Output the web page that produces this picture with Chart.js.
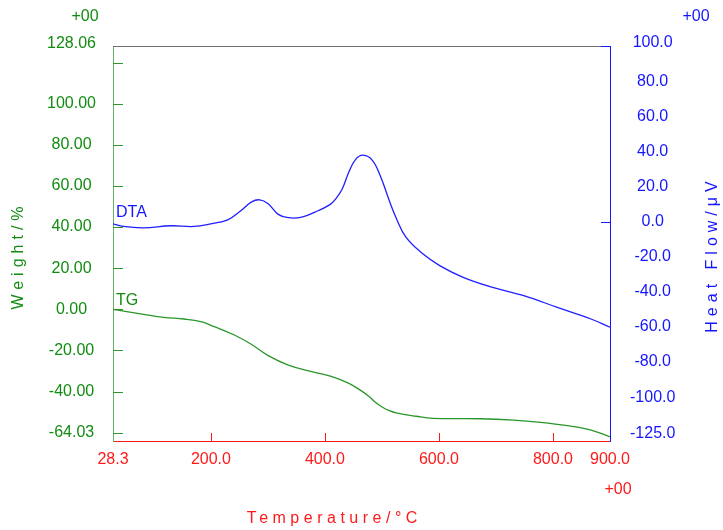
<!DOCTYPE html>
<html lang="en">
<head>
<meta charset="UTF-8">
<title>TG / DTA</title>
<style>
  body { margin: 0; background: #fff; }
  #wrap { width: 723px; height: 530px; }
</style>
</head>
<body>
<div id="wrap"><canvas id="grafico"></canvas></div>

<script src="https://cdn.jsdelivr.net/npm/chart.js"></script>
<script>
// TG curve (weight %, left axis)
const tgTemp   = [28.3, 81.9, 117.3, 152.7, 182.3, 205.8, 241.2, 270.8, 300.4, 335.8, 377, 412.4, 442, 462, 477.4, 489, 501, 513, 525, 559.8, 589.4, 672, 731, 778.3, 825.3, 866.7, 900];
const tgWeight = [0.0, -2.4, -3.9, -4.7, -6.0, -8.4, -12.5, -17.0, -22.5, -27.1, -30.3, -32.7, -36.0, -39.3, -42.4, -45.3, -47.6, -49.3, -50.4, -52.0, -53.0, -53.2, -53.9, -55.0, -56.6, -58.7, -62.0];

// DTA curve (heat flow uV, right axis)
const dtaTemp = [28.3, 46.5, 81.9, 129.2, 170.4, 200, 229.6, 253.1, 270.8, 285.5, 300.4, 318.1, 335.8, 359.3, 388.9, 409.4, 418.2, 430.1, 442, 453.6, 466.7, 483.2, 497.9, 512.8, 524.4, 542.1, 571.7, 601.3, 642.5, 689.7, 748.7, 807.6, 866.7, 900];
const dtaHeat = [-1.3, -2.8, -3.6, -2.4, -2.8, -1.3, 1.0, 6.3, 11.1, 12.4, 10.2, 4.1, 2.2, 2.5, 6.3, 9.8, 12.6, 18.4, 28.2, 35.3, 37.8, 34.9, 25.4, 12.0, 2.5, -8.9, -18.4, -25.1, -31.8, -37.1, -42.2, -48.9, -55.5, -60.2];

// axis ticks
const tempTicks   = [28.3, 200, 400, 600, 800, 900];
const tempMarks   = [200, 400, 600, 800];
const weightTicks = [-64.03, -40, -20, 0, 20, 40, 60, 80, 100, 128.06];
const weightMarks = [-60, -40, -20, 0, 20, 40, 60, 80, 100, 120];
const heatTicks   = [-125, -100, -80, -60, -40, -20, 0, 20, 40, 60, 80, 100];
const heatMarks   = [0, 100];

const GREEN = '#118c11';
const BLUE  = '#1515ff';
const RED   = '#ff1a1a';
const FONT  = "'Liberation Sans', Arial, sans-serif";

const pts = (xs, ys) => xs.map((x, i) => ({ x: x, y: ys[i] }));

function setTicks(values) {
  return scale => { scale.ticks = values.map(v => ({ value: v })); };
}

function spaced(ctx, text, x, y, rot, color, spacing) {
  ctx.save();
  ctx.translate(x, y);
  ctx.rotate(rot);
  ctx.fillStyle = color;
  ctx.font = '16px ' + FONT;
  ctx.letterSpacing = spacing + 'px';
  ctx.textAlign = 'center';
  ctx.textBaseline = 'middle';
  ctx.fillText(text, spacing / 2, 0);
  ctx.restore();
}

const extras = {
  id: 'extras',
  beforeDraw(chart) {
    // end labels sit a little inside the frame, like the original
    const ca = chart.chartArea;
    [['yW', -8, -2], ['yH', -7, -3]].forEach(([id, dBottom, dTop]) => {
      const items = chart.scales[id].getLabelItems(ca);
      if (!items.length || items._nudged) return;
      items[0].options.translation[1] += dBottom;
      items[items.length - 1].options.translation[1] += dTop;
      items._nudged = true;
    });
  },
  afterDraw(chart) {
    const ctx = chart.ctx;
    const ca = chart.chartArea;
    const { x, yW, yH } = chart.scales;

    ctx.save();
    ctx.lineWidth = 1;
    // top frame line
    ctx.strokeStyle = '#707070';
    ctx.beginPath();
    ctx.moveTo(ca.left, ca.top + 0.5);
    ctx.lineTo(ca.right, ca.top + 0.5);
    ctx.stroke();

    // inward tick marks
    ctx.strokeStyle = '#2e962e';
    weightMarks.forEach(v => {
      const py = Math.round(yW.getPixelForValue(v)) + 0.5;
      ctx.beginPath(); ctx.moveTo(ca.left, py); ctx.lineTo(ca.left + 10, py); ctx.stroke();
    });
    ctx.strokeStyle = BLUE;
    heatMarks.forEach(v => {
      const py = Math.round(yH.getPixelForValue(v)) + 0.5;
      ctx.beginPath(); ctx.moveTo(ca.right - 9, py); ctx.lineTo(ca.right, py); ctx.stroke();
    });
    ctx.strokeStyle = RED;
    tempMarks.forEach(v => {
      const px = Math.round(x.getPixelForValue(v)) + 0.5;
      ctx.beginPath(); ctx.moveTo(px, ca.bottom); ctx.lineTo(px, ca.bottom - 8); ctx.stroke();
    });

    // curve names and exponent labels
    ctx.font = '16px ' + FONT;
    ctx.textBaseline = 'middle';
    ctx.textAlign = 'left';
    ctx.fillStyle = BLUE;
    ctx.fillText('DTA', ca.left + 3, 213);
    ctx.fillStyle = GREEN;
    ctx.fillText('TG', ca.left + 3, 301);
    ctx.textAlign = 'center';
    ctx.fillText('+00', 85, 17);
    ctx.fillStyle = BLUE;
    ctx.fillText('+00', 696, 17);
    ctx.fillStyle = RED;
    ctx.fillText('+00', 618, 490);
    ctx.restore();

    // axis titles
    spaced(ctx, 'Weight/%', 19, 258, -Math.PI / 2, GREEN, 5);
    spaced(ctx, 'Heat Flow/\u03bcV', 713, 257, -Math.PI / 2, BLUE, 5);
    spaced(ctx, 'Temperature/\u00b0C', 332, 519, 0, RED, 4.5);
  }
};

const ctx = document.getElementById('grafico');

new Chart(ctx, {
  type: 'line',
  data: {
    datasets: [
      {
        label: 'TG',
        data: pts(tgTemp, tgWeight),
        yAxisID: 'yW',
        borderColor: '#2a962a',
        borderWidth: 1.3,
        pointRadius: 0,
        tension: 0.4
      },
      {
        label: 'DTA',
        data: pts(dtaTemp, dtaHeat),
        yAxisID: 'yH',
        borderColor: '#1f1fff',
        borderWidth: 1.3,
        pointRadius: 0,
        tension: 0.4
      }
    ]
  },
  options: {
    responsive: true,
    maintainAspectRatio: false,
    animation: false,
    layout: { padding: { top: 46, left: 0, right: 0, bottom: 0 } },
    plugins: { legend: { display: false }, tooltip: { enabled: false } },
    scales: {
      x: {
        type: 'linear',
        min: 28.3,
        max: 900,
        afterBuildTicks: setTicks(tempTicks),
        afterFit: s => { s.height = 89; },
        grid: { display: false, drawTicks: false },
        border: { display: true, color: RED, width: 1 },
        ticks: {
          autoSkip: false,
          maxRotation: 0,
          padding: 9,
          color: RED,
          font: { family: FONT, size: 16 },
          callback: v => Number(v).toFixed(1)
        }
      },
      yW: {
        type: 'linear',
        position: 'left',
        min: -64.03,
        max: 128.06,
        afterBuildTicks: setTicks(weightTicks),
        afterFit: s => { s.width = 113; },
        grid: { display: false, drawTicks: false },
        border: { display: true, color: '#66b066', width: 1 },
        ticks: {
          padding: 17,
          crossAlign: 'center',
          color: GREEN,
          font: { family: FONT, size: 16 },
          callback: v => Number(v).toFixed(2)
        }
      },
      yH: {
        type: 'linear',
        position: 'right',
        min: -125,
        max: 100,
        afterBuildTicks: setTicks(heatTicks),
        afterFit: s => { s.width = 113; },
        grid: { display: false, drawTicks: false },
        border: { display: true, color: BLUE, width: 1 },
        ticks: {
          padding: 20,
          crossAlign: 'center',
          color: BLUE,
          font: { family: FONT, size: 16 },
          callback: v => Number(v).toFixed(1)
        }
      }
    }
  },
  plugins: [extras]
});
</script>
</body>
</html>
